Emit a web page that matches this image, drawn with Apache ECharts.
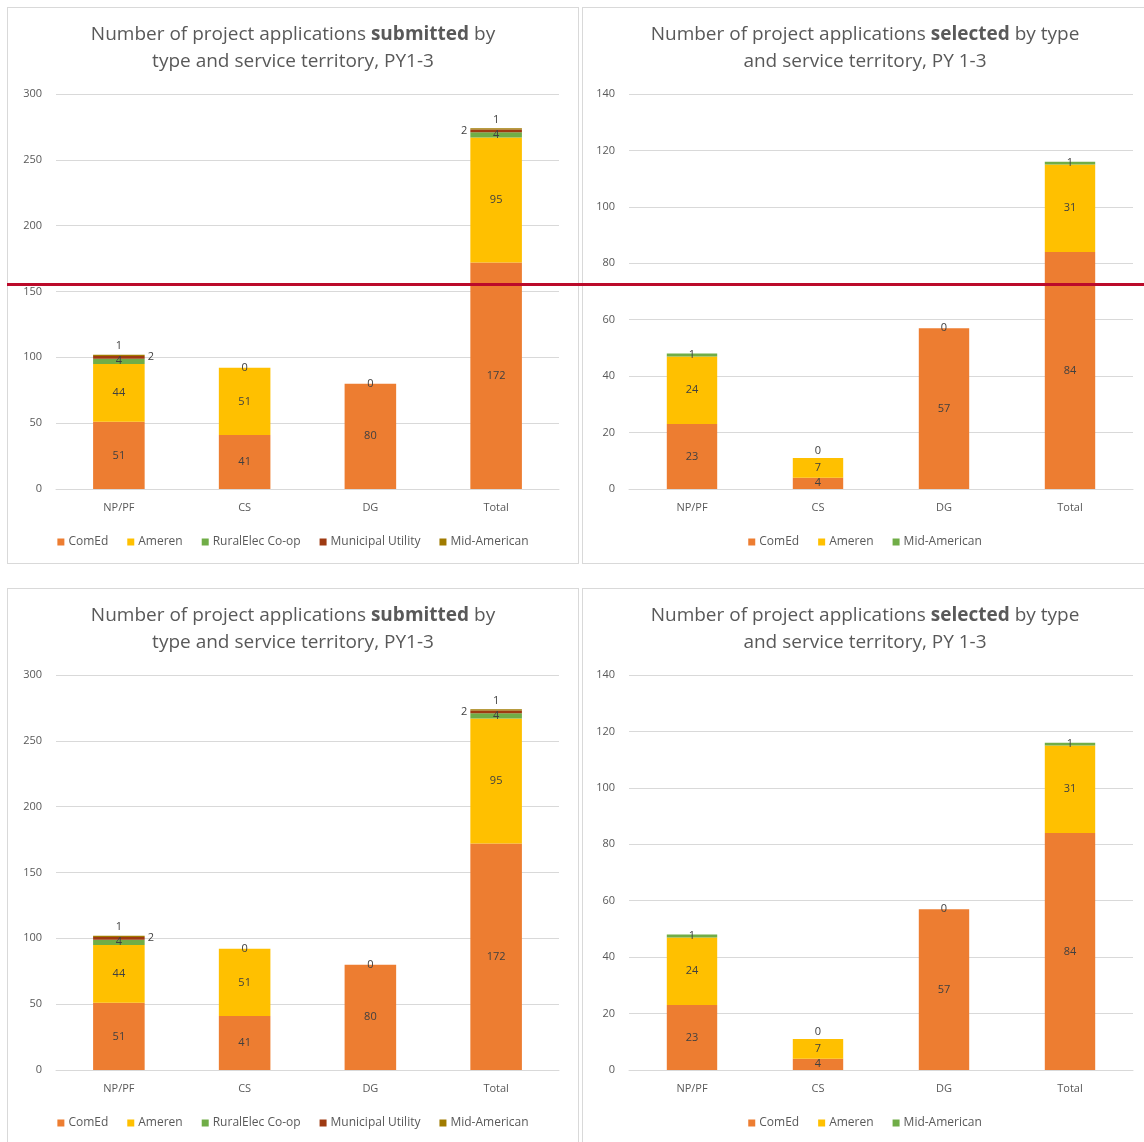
<!DOCTYPE html>
<html>
<head>
<meta charset="utf-8">
<script src="https://cdn.jsdelivr.net/npm/echarts@6/dist/echarts.min.js"></script>
<style>
  html, body { margin: 0; padding: 0; background: #ffffff; }
  body { width: 1144px; height: 1142px; position: relative; overflow: hidden; }
  .panel { position: absolute; box-sizing: border-box; border: 1px solid #d9d9d9; background: #fff; }
  #redline { position: absolute; left: 7px; top: 283px; width: 1137px; height: 3px; background: #bb0a2a; }
</style>
</head>
<body>
<div class="panel" id="tl" style="left:7px;top:7px;width:572px;height:557px;"></div>
<div class="panel" id="tr" style="left:582px;top:7px;width:566px;height:557px;"></div>
<div class="panel" id="bl" style="left:7px;top:588px;width:572px;height:557px;"></div>
<div class="panel" id="br" style="left:582px;top:588px;width:566px;height:557px;"></div>
<div id="redline"></div>
<script>
// ---- Data ----
var categories = ['NP/PF', 'CS', 'DG', 'Total'];

// Submitted, PY1-3
var subComEd     = [51, 41, 80, 172];
var subAmeren    = [44, 51, 0, 95];
var subRural     = [4, 0, null, 4];
var subMunicipal = [2, null, null, 2];
var subMidAm     = [1, null, null, 1];

// Selected, PY 1-3
var selComEd  = [23, 4, 57, 84];
var selAmeren = [24, 7, 0, 31];
var selMidAm  = [1, 0, null, 1];

var subTicks = [0, 50, 100, 150, 200, 250, 300];
var selTicks = [0, 20, 40, 60, 80, 100, 120, 140];

var C_COMED = '#ed7d31', C_AMEREN = '#ffc000', C_GREEN = '#70ad47',
    C_MUNI = '#9e3a12', C_MIDAM = '#a07b00';
var FONT = '"Open Sans", "Liberation Sans", Arial, sans-serif';
var TXT = '#595959';

function lbl(pos, extra) {
  var o = { show: true, position: pos, color: '#404040', fontSize: 11, fontFamily: FONT };
  if (extra) for (var k in extra) o[k] = extra[k];
  return o;
}

function baseOption(titleRich, ticks, gridCfg, legendNames) {
  return {
    animation: false,
    textStyle: { fontFamily: FONT },
    title: {
      text: titleRich,
      left: 'center',
      top: 8,
      textStyle: {
        fontFamily: FONT, fontSize: 19, fontWeight: 'normal', color: TXT, lineHeight: 27,
        rich: {
          n: { fontFamily: FONT, fontSize: 19, color: TXT, lineHeight: 27 },
          b: { fontFamily: FONT, fontSize: 19, color: TXT, fontWeight: 'bold', lineHeight: 27 }
        }
      }
    },
    legend: {
      data: legendNames,
      left: 'center',
      top: 523,
      itemWidth: 7,
      itemHeight: 7,
      itemGap: 19,
      icon: 'rect',
      textStyle: { color: TXT, fontSize: 12, fontFamily: FONT, padding: [0, 0, 0, -1] }
    },
    grid: gridCfg,
    xAxis: {
      type: 'category',
      data: categories,
      axisLine: { show: true, lineStyle: { color: '#d9d9d9' } },
      axisTick: { show: false },
      axisLabel: { color: TXT, fontSize: 11, margin: 13, fontFamily: FONT }
    },
    yAxis: {
      type: 'value',
      min: ticks[0],
      max: ticks[ticks.length - 1],
      interval: ticks[1] - ticks[0],
      axisLine: { show: false },
      axisTick: { show: false },
      splitLine: { lineStyle: { color: '#d9d9d9', width: 1 } },
      axisLabel: { color: TXT, fontSize: 11, margin: 14, fontFamily: FONT }
    }
  };
}

function submittedOption() {
  var o = baseOption(
    '{n|Number of project applications }{b|submitted}{n| by}\n{n|type and service territory, PY1-3}',
    subTicks,
    { left: 48, right: 19, top: 86, bottom: 74 },
    ['ComEd', 'Ameren', 'RuralElec Co-op', 'Municipal Utility', 'Mid-American']
  );
  var bw = '41%';
  o.series = [
    { name: 'ComEd', type: 'bar', stack: 's', barWidth: bw, data: subComEd,
      itemStyle: { color: C_COMED }, label: lbl('inside') },
    { name: 'Ameren', type: 'bar', stack: 's', barWidth: bw, data: subAmeren,
      itemStyle: { color: C_AMEREN }, label: lbl('inside') },
    { name: 'RuralElec Co-op', type: 'bar', stack: 's', barWidth: bw, data: subRural,
      itemStyle: { color: C_GREEN }, label: lbl('inside') },
    { name: 'Municipal Utility', type: 'bar', stack: 's', barWidth: bw,
      data: subMunicipal.map(function (v, i) {
        if (v === null) return null;
        return { value: v, label: lbl(i === 3 ? 'left' : 'right', { distance: 3 }) };
      }),
      itemStyle: { color: C_MUNI } },
    { name: 'Mid-American', type: 'bar', stack: 's', barWidth: bw, data: subMidAm,
      itemStyle: { color: C_MIDAM }, label: lbl('top', { distance: 3 }) }
  ];
  return o;
}

function selectedOption() {
  var o = baseOption(
    '{n|Number of project applications }{b|selected}{n| by type}\n{n|and service territory, PY 1-3}',
    selTicks,
    { left: 46, right: 14, top: 86, bottom: 74 },
    ['ComEd', 'Ameren', 'Mid-American']
  );
  var bw = '40%';
  o.series = [
    { name: 'ComEd', type: 'bar', stack: 's', barWidth: bw, data: selComEd,
      itemStyle: { color: C_COMED }, label: lbl('inside') },
    { name: 'Ameren', type: 'bar', stack: 's', barWidth: bw, data: selAmeren,
      itemStyle: { color: C_AMEREN }, label: lbl('inside') },
    { name: 'Mid-American', type: 'bar', stack: 's', barWidth: bw,
      data: selMidAm.map(function (v, i) {
        if (v === null) return null;
        if (i === 1) return { value: v, label: lbl('top', { distance: 2 }) };
        return v;
      }),
      itemStyle: { color: C_GREEN }, label: lbl('inside') }
  ];
  return o;
}

echarts.init(document.getElementById('tl')).setOption(submittedOption());
echarts.init(document.getElementById('tr')).setOption(selectedOption());
echarts.init(document.getElementById('bl')).setOption(submittedOption());
echarts.init(document.getElementById('br')).setOption(selectedOption());
</script>
</body>
</html>
